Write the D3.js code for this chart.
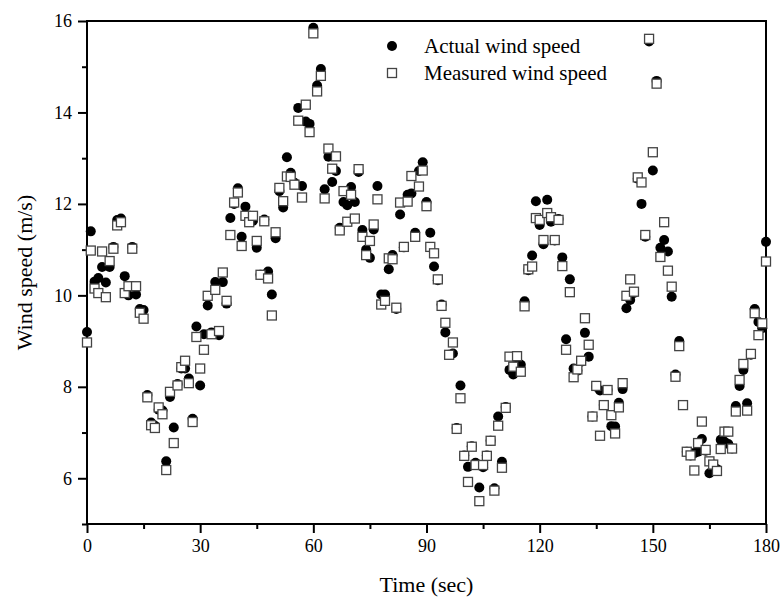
<!DOCTYPE html>
<html>
<head>
<meta charset="utf-8">
<script src="https://cdn.jsdelivr.net/npm/d3@7"></script>
<style>
  body { margin: 0; background: #fff; }
  text { font-family: "Liberation Serif", "Times New Roman", serif; fill: #000; }
</style>
</head>
<body>
<div id="chart"></div>
<script>
// time stamps (sec)
var time = [0,1,2,3,4,5,6,7,8,9,10,11,12,13,14,15,16,17,18,19,20,21,22,23,24,25,26,27,28,29,30,
  31,32,33,34,35,36,37,38,39,40,41,42,43,44,45,46,47,48,49,50,51,52,53,54,55,56,57,58,59,60,
  61,62,63,64,65,66,67,68,69,70,71,72,73,74,75,76,77,78,79,80,81,82,83,84,85,86,87,88,89,90,
  91,92,93,94,95,96,97,98,99,100,101,102,103,104,105,106,107,108,109,110,111,112,113,114,115,116,117,118,119,120,
  121,122,123,124,125,126,127,128,129,130,131,132,133,134,135,136,137,138,139,140,141,142,143,144,145,146,147,148,149,150,
  151,152,153,154,155,156,157,158,159,160,161,162,163,164,165,166,167,168,169,170,171,172,173,174,175,176,177,178,179,180];

var actual = [9.2,11.4,10.3,10.38,10.62,10.28,10.62,11.06,11.65,11.68,10.42,10.0,11.06,10.02,9.7,9.68,7.82,7.22,7.15,7.5,7.48,
  6.37,7.78,7.11,8.06,8.4,8.4,8.18,7.3,9.32,8.03,9.15,9.78,9.19,10.29,9.13,10.29,9.82,11.69,12.0,12.34,
  11.28,11.94,11.65,11.63,11.04,10.45,11.66,10.52,10.02,11.25,12.28,11.92,13.02,12.68,12.46,14.1,12.39,13.8,13.75,15.85,
  14.59,14.95,12.32,13.03,12.48,12.72,11.48,12.04,11.97,12.37,12.04,12.7,11.43,11.0,10.82,11.44,12.39,10.02,10.02,10.57,
  10.88,9.7,11.77,11.05,12.2,12.23,11.37,12.72,12.91,12.04,11.37,10.63,10.33,9.8,9.19,8.7,8.73,7.1,8.03,6.5,
  6.25,6.7,6.34,5.8,6.24,6.5,6.82,5.78,7.35,6.36,7.56,8.37,8.27,8.6,8.48,9.87,10.55,10.87,12.06,11.54,
  11.12,12.09,11.61,11.2,11.67,10.83,9.04,10.35,8.4,8.35,8.55,9.18,8.66,7.35,8.0,7.92,7.6,7.93,7.14,7.13,
  7.65,7.95,9.72,9.9,10.05,12.55,12.0,11.28,15.55,12.73,14.69,11.04,11.21,10.96,9.97,8.27,9.0,7.6,6.58,6.5,
  6.55,6.58,6.86,6.6,6.11,6.3,6.2,6.84,6.8,6.75,6.65,7.58,8.02,8.37,7.64,8.7,9.7,9.42,9.28,11.17];

var measured = [8.97,10.98,10.15,10.05,10.96,9.96,10.75,11.02,11.53,11.6,10.05,10.2,11.02,10.2,9.62,9.49,7.77,7.16,7.1,7.55,7.4,
  6.18,7.89,6.77,8.03,8.43,8.57,8.08,7.23,9.09,8.4,8.81,9.99,9.15,10.12,9.22,10.5,9.88,11.32,12.03,12.25,
  11.08,11.74,11.6,11.74,11.19,10.45,11.62,10.37,9.56,11.38,12.35,12.06,12.6,12.59,12.42,13.82,12.14,14.17,13.57,15.73,
  14.46,14.8,12.12,13.21,12.77,13.04,11.42,12.28,11.61,12.2,11.68,12.76,11.28,10.88,11.19,11.55,12.1,9.8,9.88,10.81,
  10.79,9.73,12.03,11.06,12.05,12.61,11.28,12.38,12.73,11.95,11.06,10.92,10.35,9.77,9.4,8.7,8.97,7.08,7.75,6.49,
  5.92,6.69,6.29,5.5,6.29,6.49,6.82,5.73,7.15,6.23,7.54,8.66,8.44,8.67,8.33,9.76,10.57,10.63,11.69,11.65,
  11.21,11.8,11.71,11.21,11.65,10.64,8.81,10.07,8.21,8.38,8.57,9.5,8.92,7.35,8.02,6.93,7.6,7.93,7.38,6.98,
  7.55,8.08,9.99,10.35,10.08,12.58,12.47,11.32,15.61,13.13,14.63,10.84,11.6,10.54,10.19,8.22,8.89,7.6,6.58,6.5,
  6.17,6.77,7.24,6.62,6.37,6.3,6.16,6.64,7.02,7.02,6.65,7.46,8.15,8.5,7.48,8.72,9.61,9.13,9.39,10.74];

var xMajor = [0, 30, 60, 90, 120, 150, 180];
var xMinor = [15, 45, 75, 105, 135, 165];
var yMajor = [6, 8, 10, 12, 14, 16];
var yMinor = [5, 7, 9, 11, 13, 15];
var seriesNames = ["Actual wind speed", "Measured wind speed"];

var width = 781, height = 601;
var margins = {left: 87, top: 21, right: 15, bottom: 77};
var w = width - margins.left - margins.right;
var h = height - margins.top - margins.bottom;
var serif = "'Liberation Serif', 'Times New Roman', serif";

var svg = d3.select("#chart").append("svg")
    .attr("width", width)
    .attr("height", height);
var g = svg.append("g")
    .attr("transform", "translate(" + margins.left + "," + margins.top + ")");

var x = d3.scaleLinear().domain([0, 180]).range([0, w]);
var y = d3.scaleLinear().domain([5, 16]).range([h, 0]);

// minor ticks
g.append("g")
    .attr("transform", "translate(0," + h + ")")
    .call(d3.axisBottom(x).tickValues(xMinor).tickSize(5).tickFormat(""))
    .call(s => s.select(".domain").remove());
g.append("g")
    .call(d3.axisLeft(y).tickValues(yMinor).tickSize(5).tickFormat(""))
    .call(s => s.select(".domain").remove());

// major ticks
var gx = g.append("g")
    .attr("transform", "translate(0," + h + ")")
    .call(d3.axisBottom(x).tickValues(xMajor).tickSize(9).tickPadding(6))
    .attr("font-family", serif)
    .attr("font-size", 18);
var gy = g.append("g")
    .call(d3.axisLeft(y).tickValues(yMajor).tickSize(9).tickPadding(6))
    .attr("font-family", serif)
    .attr("font-size", 18);

g.selectAll(".tick line").attr("stroke", "#000").attr("stroke-width", 2);
g.selectAll(".domain").remove();
g.selectAll(".tick text")
    .style("font-family", serif)
    .style("font-size", "18px")
    .attr("fill", "#000");

// frame
g.append("rect")
    .attr("width", w)
    .attr("height", h)
    .attr("fill", "none")
    .attr("stroke", "#000")
    .attr("stroke-width", 2);

var data = time.map((t, i) => ({t: t, a: actual[i], m: measured[i]}));

// actual: filled circles
g.selectAll(".actual")
    .data(data)
    .enter()
    .append("circle")
    .attr("class", "actual")
    .attr("cx", d => x(d.t))
    .attr("cy", d => y(d.a))
    .attr("r", 5)
    .attr("fill", "#000");

// measured: open squares drawn on top
var sq = 9;
g.selectAll(".measured")
    .data(data)
    .enter()
    .append("rect")
    .attr("class", "measured")
    .attr("x", d => x(d.t) - sq / 2)
    .attr("y", d => y(d.m) - sq / 2)
    .attr("width", sq)
    .attr("height", sq)
    .attr("fill", "#fff")
    .attr("stroke", "#444")
    .attr("stroke-width", 1.3);

// legend
var leg = svg.append("g").attr("transform", "translate(392,46)");
leg.append("circle").attr("cx", 0).attr("cy", 0).attr("r", 5).attr("fill", "#000");
leg.append("rect").attr("x", -sq / 2).attr("y", 27 - sq / 2).attr("width", sq).attr("height", sq)
    .attr("fill", "#fff").attr("stroke", "#444").attr("stroke-width", 1.3);
leg.selectAll(".legtext")
    .data(seriesNames)
    .enter()
    .append("text")
    .attr("class", "legtext")
    .attr("x", 32)
    .attr("y", (d, i) => i * 27 + 7)
    .style("font-size", "21px")
    .text(d => d);

// axis titles
svg.append("text")
    .attr("x", margins.left + w / 2)
    .attr("y", 592)
    .attr("text-anchor", "middle")
    .style("font-size", "22px")
    .text("Time (sec)");
svg.append("text")
    .attr("transform", "translate(32," + (margins.top + h / 2) + ") rotate(-90)")
    .attr("text-anchor", "middle")
    .style("font-size", "22px")
    .text("Wind speed (m/s)");
</script>
</body>
</html>
